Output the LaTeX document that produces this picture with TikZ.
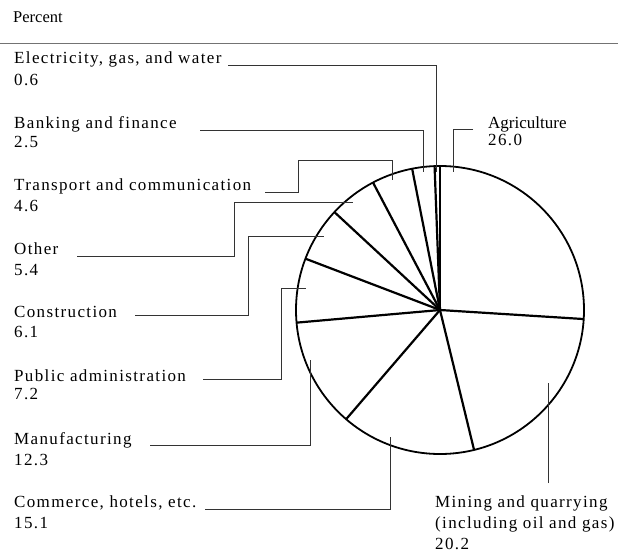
\documentclass[tikz,border=0pt]{standalone}
\usepackage{fontspec}
\setmainfont{Liberation Serif}[LetterSpace=8]
\newfontfamily\plainserif{Liberation Serif}
\begin{document}
\begin{tikzpicture}[x=1pt,y=-1pt,
  lab/.style={anchor=base west, inner sep=0pt, font=\fontsize{17}{20}\selectfont},
  plainlab/.style={anchor=base west, inner sep=0pt, font=\plainserif\fontsize{16.5}{20}\selectfont},
  leader/.style={draw=black!80, line width=0.6pt},
  spoke/.style={line width=2.2pt},
  rim/.style={line width=1.8pt},
  rule/.style={draw=black!55, line width=0.8pt}]
\useasboundingbox (0,0) rectangle (618,554);
\fill[white] (0,0) rectangle (618,554);
% header
\node[plainlab] (percent) at (13,22) {Percent};
\coordinate (ruleL) at (0,43);
\coordinate (ruleR) at (618,43);
\draw[rule] (ruleL) -- (ruleR);
% pie
\coordinate (c) at (440,310);
\foreach \t in {-90,3.6,76.32,130.68,174.96,200.88,-137.16,-117.72,-101.16,-92.16}
  \draw[spoke] (c) -- ++(\t:144);
\draw[rim] (c) circle[radius=144];
% labels
\node[lab] (elec) at (14,63) {Electricity, gas, and water};
\node[lab] (elecv) at (14,85) {0.6};
\node[lab] (bank) at (14,128) {Banking and finance};
\node[lab] (bankv) at (14,147) {2.5};
\node[lab] (trans) at (14,190) {Transport and communication};
\node[lab] (transv) at (14,211) {4.6};
\node[lab] (other) at (14,254) {Other};
\node[lab] (otherv) at (14,275) {5.4};
\node[lab] (constr) at (14,317) {Construction};
\node[lab] (constrv) at (14,337) {6.1};
\node[lab] (pub) at (14,381) {Public administration};
\node[lab] (pubv) at (14,399) {7.2};
\node[lab] (manuf) at (14,444) {Manufacturing};
\node[lab] (manufv) at (14,465) {12.3};
\node[lab] (comm) at (14,507) {Commerce, hotels, etc.};
\node[lab] (commv) at (14,528) {15.1};
\node[plainlab, font=\plainserif\fontsize{17}{20}\selectfont] (agri) at (488,128) {Agriculture};
\node[lab] (agriv) at (488,145) {26.0};
\node[lab] (mine) at (435,507) {Mining and quarrying};
\node[lab] (mine2) at (435,528) {(including oil and gas)};
\node[lab] (minev) at (435,549) {20.2};
% leader coordinates
\coordinate (elecS) at (228,65);   \coordinate (elecE) at (436,172);
\coordinate (bankS) at (200,130);  \coordinate (bankE) at (423,172);
\coordinate (transS) at (265,192); \coordinate (transB) at (298,160); \coordinate (transE) at (392,180);
\coordinate (otherS) at (77,256);  \coordinate (otherB) at (234,202); \coordinate (otherE) at (353,202);
\coordinate (constrS) at (135,315);\coordinate (constrB) at (248,236);\coordinate (constrE) at (324,236);
\coordinate (pubS) at (203,379);   \coordinate (pubB) at (281,288);   \coordinate (pubE) at (306,288);
\coordinate (manufS) at (150,445); \coordinate (manufE) at (310,360);
\coordinate (commS) at (205,509);  \coordinate (commE) at (390,437);
\coordinate (agriS) at (473,129);  \coordinate (agriE) at (453,172);
\coordinate (mineS) at (548,483);  \coordinate (mineE) at (548,383);
% leaders
\draw[leader] (elecS) -| (elecE);
\draw[leader] (bankS) -| (bankE);
\draw[leader] (transS) -| (transB) -| (transE);
\draw[leader] (otherS) -| (otherB) -- (otherE);
\draw[leader] (constrS) -| (constrB) -- (constrE);
\draw[leader] (pubS) -| (pubB) -- (pubE);
\draw[leader] (manufS) -| (manufE);
\draw[leader] (commS) -| (commE);
\draw[leader] (agriS) -| (agriE);
\draw[leader] (mineS) -- (mineE);
\end{tikzpicture}
\end{document}
